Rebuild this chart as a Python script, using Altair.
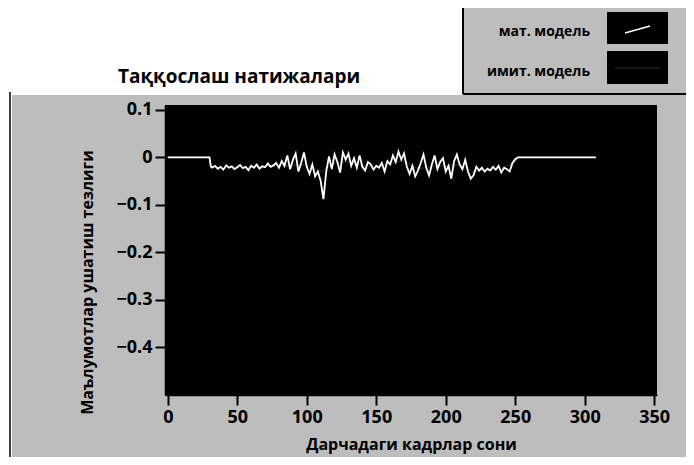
import altair as alt
import pandas as pd

# ---- data ----
frames_mat = [0, 30, 31] + list(range(32, 253, 2)) + [260, 280, 300, 308]
values_mat = [0.0, 0.0, -0.020,
    -0.022, -0.018, -0.024, -0.020, -0.026, -0.017, -0.022, -0.019, -0.025, -0.021,
    -0.016, -0.023, -0.020, -0.027, -0.018, -0.022, -0.015, -0.024, -0.019, -0.021,
    -0.013, -0.020, -0.017, -0.012, -0.022, -0.008, -0.018, 0.004, -0.025, -0.006,
    0.008, -0.030, -0.012, 0.010, -0.020, -0.035, -0.015, -0.040, -0.030, -0.050,
    -0.088, -0.030, 0.002, -0.025, 0.006, -0.010, -0.032, 0.010, -0.005, 0.008,
    -0.018, -0.002, -0.022, 0.004, -0.020, -0.028, -0.010, -0.015, -0.026, -0.018,
    -0.022, -0.012, -0.030, -0.008, -0.015, 0.004, -0.010, 0.012, -0.005, 0.008,
    -0.020, -0.035, -0.018, -0.040, -0.028, -0.012, 0.006, -0.022, -0.038, -0.015,
    0.004, -0.025, -0.010, -0.002, -0.030, -0.018, -0.045, -0.008, 0.006, -0.015,
    -0.025, -0.005, -0.030, -0.045, -0.038, -0.020, -0.028, -0.022, -0.030, -0.024,
    -0.028, -0.020, -0.026, -0.018, -0.032, -0.022, -0.025, -0.030, -0.012, -0.004,
    0.0,
    0.0, 0.0, 0.0, 0.0]

frames_imit = [0, 30, 32, 40, 50, 60, 70, 80, 90, 100, 110, 120, 130, 140, 150,
               160, 170, 180, 190, 200, 210, 220, 230, 240, 250, 252, 308]
values_imit = [0.0, 0.0, -0.021, -0.022, -0.020, -0.021, -0.019, -0.018, -0.017,
               -0.016, -0.030, -0.012, -0.010, -0.018, -0.020, -0.012, -0.008,
               -0.024, -0.020, -0.018, -0.016, -0.030, -0.026, -0.024, -0.010,
               0.0, 0.0]

series_names = ["мат. модель", "имит. модель"]
y_ticks = [0.1, 0, -0.1, -0.2, -0.3, -0.4]
x_ticks = [0, 50, 100, 150, 200, 250, 300, 350]

df_mat = pd.DataFrame({"frame": frames_mat, "value": values_mat, "series": series_names[0]})
df_imit = pd.DataFrame({"frame": frames_imit, "value": values_imit, "series": series_names[1]})

W, H = 492, 290
one = alt.Data(values=[{"k": 0}])
FONT = "Open Sans"

def rect(x, x2, y, y2, color):
    return alt.Chart(one).mark_rect(color=color, strokeWidth=0).encode(
        x=alt.value(x), x2=alt.value(x2), y=alt.value(y), y2=alt.value(y2))

def rule(x, x2, y, y2, color, w):
    return alt.Chart(one).mark_rule(color=color, strokeWidth=w).encode(
        x=alt.value(x), x2=alt.value(x2), y=alt.value(y), y2=alt.value(y2))

def label(txt, x, y, size, align="left", color="black"):
    return alt.Chart(one).mark_text(text=txt, font=FONT, fontWeight="bold", fontSize=size,
                                    align=align, baseline="alphabetic", color=color).encode(
        x=alt.value(x), y=alt.value(y))

gray = "#bdbdbd"
lx = lambda p: p - 165
ly = lambda p: p - 105

panel = rect(lx(12), lx(686), ly(95), ly(457), gray)
plotbg = rect(0, W, 0, H, "black")

xsc = alt.Scale(domain=[-2, 352], nice=False, zero=False)
ysc = alt.Scale(domain=[-0.5, 0.11], nice=False, zero=False)

xaxis = alt.Axis(values=x_ticks, title="Дарчадаги кадрлар сони", titleY=54,
                 titleBaseline="alphabetic", titleFontSize=16, zindex=1)
yaxis = alt.Axis(values=y_ticks, format="~g", title="Маълумотлар ушатиш тезлиги",
                 titleX=-73, titleY=177, titleBaseline="alphabetic",
                 titleFontSize=16, zindex=1)

line_imit = alt.Chart(df_imit).mark_line(strokeWidth=1.5, clip=True, color="#1e1e1e").encode(
    x=alt.X("frame:Q", scale=xsc, axis=xaxis),
    y=alt.Y("value:Q", scale=ysc, axis=yaxis),
    detail="series:N",
)
line_mat = alt.Chart(df_mat).mark_line(strokeWidth=1.8, clip=True, color="white").encode(
    x=alt.X("frame:Q", scale=xsc),
    y=alt.Y("value:Q", scale=ysc),
    detail="series:N",
)

# custom legend (top right)
legend = [
    rect(lx(463), lx(686), ly(8), ly(94), gray),
    rule(lx(463), lx(463), ly(6), ly(94), "black", 2),
    rule(lx(463), lx(686), ly(94), ly(94), "black", 2),
    rect(lx(607), lx(668), ly(12), ly(44), "black"),
    rect(lx(607), lx(668), ly(51), ly(84), "black"),
    rule(lx(625), lx(650), ly(33), ly(26), "white", 1.5),
    rule(lx(615), lx(660), ly(68), ly(68), "#1e1e1e", 1.5),
    label(series_names[0], lx(590), ly(36), 14, align="right"),
    label(series_names[1], lx(590), ly(76), 14, align="right"),
]

frame_lines = [
    rule(lx(10), lx(10), ly(92), ly(457), "black", 1.5),
]

title = label("Таққослаш натижалари", lx(118), ly(83), 19)

chart = alt.layer(panel, plotbg, line_imit, line_mat, *legend, *frame_lines, title).properties(
    width=W, height=H,
    autosize=alt.AutoSizeParams(type="none"),
    padding={"left": 157, "top": 97, "right": 29, "bottom": 62},
    background="white",
).configure_view(stroke=None).configure_axis(
    labelFont=FONT, labelFontWeight="bold", labelFontSize=18, labelColor="black",
    titleFont=FONT, titleFontWeight="bold", titleColor="black",
    tickColor="black", tickWidth=2, tickSize=10,
    domainColor="black", domainWidth=1.5, grid=False, labelPadding=3,
)

chart.save("out.html", embed_options={"renderer": "svg", "actions": False})
